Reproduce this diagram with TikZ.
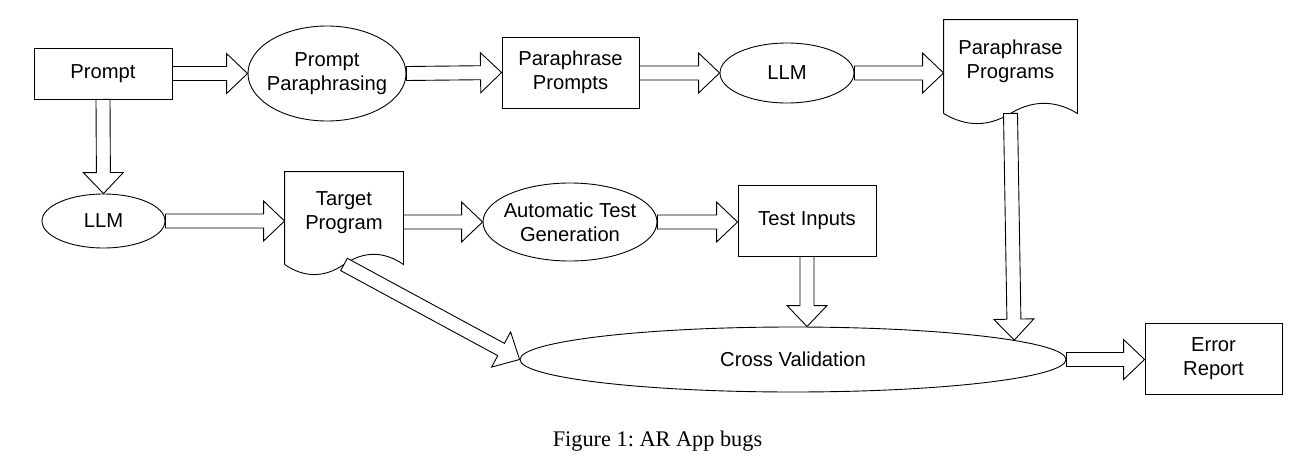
\documentclass[tikz,border=0pt]{standalone}
\usepackage{fontspec}
\setmainfont{Liberation Sans}
\newfontfamily\capfont{Liberation Serif}
\usetikzlibrary{calc,shapes.geometric}
\frenchspacing
\newcommand{\bw}{7pt}
\newcommand{\hw}{20pt}
\newcommand{\hl}{21pt}
\tikzset{
  base/.style={line width=0.9pt, font=\fontsize{20.2}{24}\selectfont, align=center, inner sep=0pt},
  boxnode/.style={base, draw, rectangle},
  ovalnode/.style={base, draw, ellipse, inner xsep=-12pt},
  docnode/.style={base, rectangle},
  docline/.style={line width=0.9pt},
  blockarrow/.style={draw, fill=white, line width=0.9pt, line join=miter,
    to path={
      ($(\tikztostart)!\bw!90:(\tikztotarget)$)
      -- ($($(\tikztotarget)!\hl!(\tikztostart)$)!\bw!90:(\tikztotarget)$)
      -- ($($(\tikztotarget)!\hl!(\tikztostart)$)!\hw!90:(\tikztotarget)$)
      -- (\tikztotarget)
      -- ($($(\tikztotarget)!\hl!(\tikztostart)$)!\hw!-90:(\tikztotarget)$)
      -- ($($(\tikztotarget)!\hl!(\tikztostart)$)!\bw!-90:(\tikztotarget)$)
      -- ($(\tikztostart)!\bw!-90:(\tikztotarget)$)
      -- cycle
    }}
}
\begin{document}
\begin{tikzpicture}[x=1pt,y=-1pt]
\useasboundingbox (0,0) rectangle (1315,471);
% nodes
\node[boxnode, minimum width=138pt, minimum height=51pt] (prompt) at (103,73.5) {Prompt};
\node[ovalnode, minimum width=158pt, minimum height=95pt] (pp) at (327,73.5) {Prompt\\Paraphrasing};
\node[boxnode, minimum width=137pt, minimum height=71pt] (ppr) at (570.5,72.5) {Paraphrase\\Prompts};
\node[ovalnode, minimum width=134pt, minimum height=60pt] (llma) at (787,73) {LLM};
\node[docnode, minimum width=133pt, minimum height=93pt] (pprog) at (1010.5,66.5) {};
\node[base] (pprogt) at (1010.5,61) {Paraphrase\\Programs};
\node[ovalnode, minimum width=123pt, minimum height=54pt] (llmb) at (103.5,221) {LLM};
\node[docnode, minimum width=118pt, minimum height=92pt] (tp) at (344,218) {};
\node[base] (tpt) at (344,213) {Target\\Program};
\node[ovalnode, minimum width=174pt, minimum height=78pt] (atg) at (570,222) {Automatic Test\\Generation};
\node[boxnode, minimum width=138pt, minimum height=71pt] (ti) at (807,220.5) {Test Inputs};
\node[ovalnode, minimum width=546pt, minimum height=65pt] (cv) at (793,359.5) {Cross Validation};
\node[boxnode, minimum width=137pt, minimum height=71pt] (er) at (1213.5,358.5) {Error\\Report};
\node[font=\capfont\fontsize{22.3}{25}\selectfont, inner sep=0pt] (cap) at (657.5,441) {Figure 1: AR App bugs};
% document outlines
\foreach \d in {pprog,tp}{
  \draw[docline] let \p1=(\d.south west), \p2=(\d.south east), \n1={(\x2-\x1)/2} in
    (\d.south west) -- (\d.north west) -- (\d.north east) -- (\d.south east)
    .. controls ($(\d.south east)+(-\n1/3,-13.5)$) and ($(\d.south)+(\n1/3,-13.5)$) .. (\d.south)
    .. controls ($(\d.south)+(-\n1/3,13.5)$) and ($(\d.south west)+(\n1/3,13.5)$) .. (\d.south west);
}
% connectors
\draw[blockarrow] (prompt.east) to (pp.west);
\draw[blockarrow] (pp.east) to (ppr.west);
\draw[blockarrow] (ppr.east |- llma.west) to (llma.west);
\draw[blockarrow] (llma.east) to (llma.east -| pprog.west);
\draw[blockarrow] (prompt.south) to (llmb.north);
\draw[blockarrow] (llmb.east) to (llmb.east -| tp.west);
\draw[blockarrow] (tp.east |- atg.west) to (atg.west);
\draw[blockarrow] (atg.east) to (atg.east -| ti.west);
\draw[blockarrow] (ti.south) to (ti.south |- cv.north);
\draw[blockarrow] (pprog.south) to (cv.5);
\draw[blockarrow] (tp.south) to (cv.west);
\draw[blockarrow] (cv.east) to (cv.east -| er.west);
\end{tikzpicture}
\end{document}
